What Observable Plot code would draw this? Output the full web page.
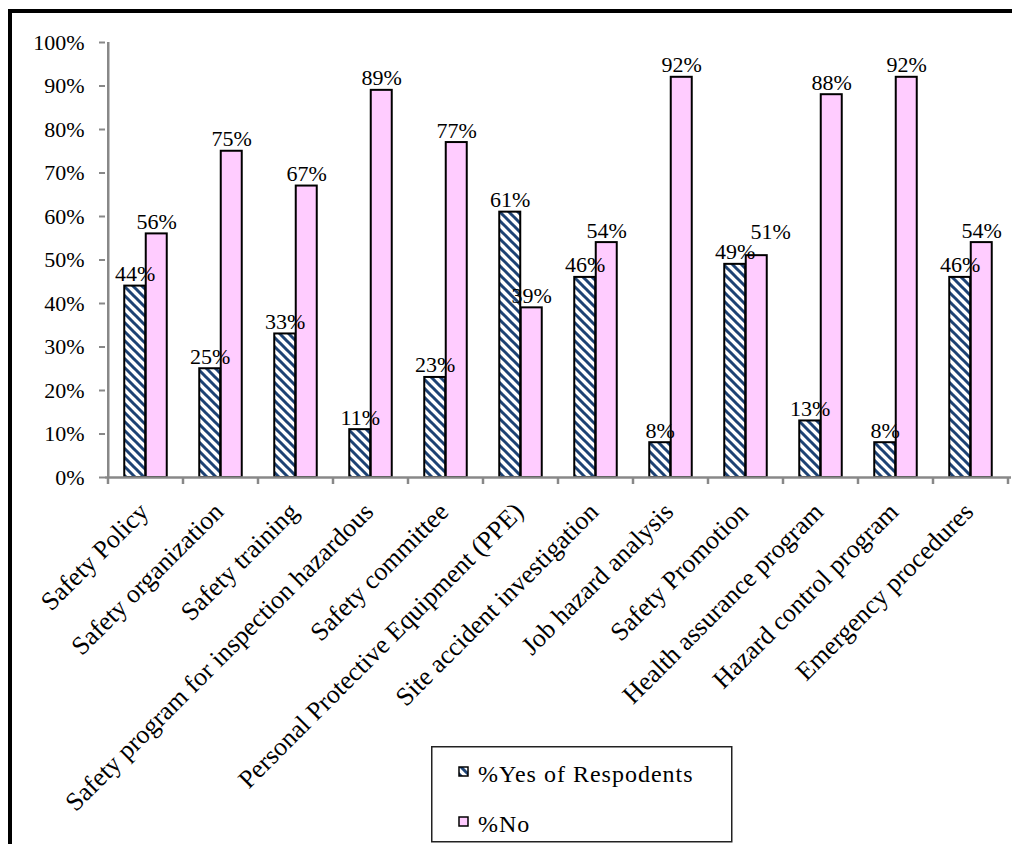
<!DOCTYPE html>
<html>
<head>
<meta charset="utf-8">
<script src="https://cdn.jsdelivr.net/npm/d3@7"></script>
<script src="https://cdn.jsdelivr.net/npm/@observablehq/plot@0.6"></script>
<style>
  html, body { margin: 0; padding: 0; background: #fff; overflow: hidden; }
  #wrap { position: relative; width: 1012px; height: 844px; overflow: hidden; }
  #frame { position: absolute; left: 8px; top: 9px; width: 1100px; height: 900px;
           border-left: 4px solid #000; border-top: 4px solid #000; box-sizing: border-box; }
  #chart { position: absolute; left: 0; top: 0; }
  #legend { position: absolute; left: 431px; top: 746px; }
</style>
</head>
<body>
<div id="wrap">
  <div id="frame"></div>
  <div id="chart"></div>
  <div id="legend"></div>
</div>
<script>
// Survey items
const categories = [
  "Safety Policy",
  "Safety organization",
  "Safety training",
  "Safety program for inspection hazardous",
  "Safety committee",
  "Personal Protective Equipment (PPE)",
  "Site accident investigation",
  "Job hazard analysis",
  "Safety Promotion",
  "Health assurance program",
  "Hazard control program",
  "Emergency procedures"
];

// Share of respondents (%)
const yesPct = [44, 25, 33, 11, 23, 61, 46, 8, 49, 13, 8, 46];
const noPct  = [56, 75, 67, 89, 77, 39, 54, 92, 51, 88, 92, 54];

const seriesNames = ["%Yes of Respodents", "%No"];
const yTicks = [0, 10, 20, 30, 40, 50, 60, 70, 80, 90, 100];

// Long-format rows for the marks
const yesRows = categories.map((c, i) => ({category: c, series: seriesNames[0], value: yesPct[i], other: noPct[i]}));
const noRows  = categories.map((c, i) => ({category: c, series: seriesNames[1], value: noPct[i], other: yesPct[i]}));

// Layout
const W = 1012, H = 844;
const ML = 105, MR = 1, MT = 42, MB = 367;
const step = (W - ML - MR) / categories.length;
const barW = 21.5;
const serif = '"Liberation Serif", "Times New Roman", Times, serif';
const axisGray = "#888888";
const yesStripe = "#1d4274";
const noFill = "#ffccff";

// When both bars of a pair end at nearly the same height, the "No" label
// is nudged up and to the right so the two labels do not collide.
const crowded = d => Math.abs(d.value - d.other) < 6;

// Diagonal hatch used by the "Yes" bars
function hatchDefs() {
  const defs = d3.create("svg:defs");
  const p = defs.append("pattern")
    .attr("id", "hatch")
    .attr("patternUnits", "userSpaceOnUse")
    .attr("width", 9).attr("height", 9);
  p.append("rect").attr("width", 9).attr("height", 9).attr("fill", "#fff");
  p.append("path")
    .attr("d", "M-1,-1L10,10M-1,8L1,10M8,-1L10,1")
    .attr("stroke", yesStripe).attr("stroke-width", 3)
    .attr("stroke-linecap", "square");
  return defs.node();
}

// Tick marks between categories on the x axis
function boundaryTicks(index, scales, values, dims) {
  const g = d3.create("svg:g").attr("stroke", axisGray).attr("stroke-width", 2.5);
  const y0 = scales.y(0);
  const edges = categories.map(c => scales.x(c)).concat(scales.x(categories[categories.length - 1]) + scales.x.bandwidth());
  for (const x of edges) {
    g.append("line").attr("x1", x).attr("x2", x).attr("y1", y0).attr("y2", y0 + 7);
  }
  return g.node();
}

const labelStyle = {x: "category", y: "value", text: d => d.value + "%", lineAnchor: "bottom", fontSize: 22, fill: "#000"};

const chart = Plot.plot({
  width: W,
  height: H,
  marginLeft: ML,
  marginRight: MR,
  marginTop: MT,
  marginBottom: MB,
  style: {fontFamily: serif, background: "transparent", color: "#000", overflow: "visible"},
  x: {domain: categories, padding: 0, axis: null},
  y: {domain: [0, 100], axis: null},
  marks: [
    hatchDefs,
    Plot.barY(yesRows, {
      x: "category", y: "value",
      fill: "url(#hatch)", stroke: "#000", strokeWidth: 2,
      insetLeft: step / 2 - barW, insetRight: step / 2
    }),
    Plot.barY(noRows, {
      x: "category", y: "value",
      fill: noFill, stroke: "#000", strokeWidth: 2,
      insetLeft: step / 2, insetRight: step / 2 - barW
    }),
    // value labels
    Plot.text(yesRows, {...labelStyle, dx: -barW / 2, dy: -5}),
    Plot.text(noRows.filter(d => !crowded(d)), {...labelStyle, dx: barW / 2, dy: -5}),
    Plot.text(noRows.filter(crowded), {...labelStyle, dx: barW / 2 + 14, dy: -17}),
    // axis lines
    Plot.ruleY([0], {stroke: axisGray, strokeWidth: 2.5}),
    Plot.ruleX([categories[0]], {x: d => d, dx: -step / 2, y1: 0, y2: 100, stroke: axisGray, strokeWidth: 2.5}),
    Plot.axisY({
      ticks: yTicks, tickFormat: d => d + "%",
      tickSize: 6, tickPadding: 15,
      stroke: axisGray, strokeWidth: 2, fill: "#000",
      fontSize: 22, label: null
    }),
    boundaryTicks,
    // rotated category labels
    Plot.text(categories, {
      x: d => d, y: 0, text: d => d,
      rotate: -45, textAnchor: "end", lineAnchor: "middle",
      dx: -2, dy: 30, fontSize: 26, fill: "#000"
    })
  ]
});
document.getElementById("chart").appendChild(chart);

// Legend box
const legend = d3.select("#legend").append("svg")
  .attr("width", 303).attr("height", 98)
  .style("font-family", serif);
legend.append("rect")
  .attr("x", 0.75).attr("y", 0.75).attr("width", 300).attr("height", 95)
  .attr("fill", "#fff").attr("stroke", "#222").attr("stroke-width", 1.5);
const swatchFills = ["url(#hatch)", noFill];
const rowY = [21, 71];
seriesNames.forEach((name, i) => {
  legend.append("rect")
    .attr("x", 28).attr("y", rowY[i]).attr("width", 9).attr("height", 9)
    .attr("fill", swatchFills[i]).attr("stroke", "#000").attr("stroke-width", 1.5);
  legend.append("text")
    .attr("x", 47).attr("y", rowY[i] + 15)
    .attr("font-size", 24).attr("letter-spacing", 1)
    .attr("fill", "#000")
    .text(name);
});
</script>
</body>
</html>
